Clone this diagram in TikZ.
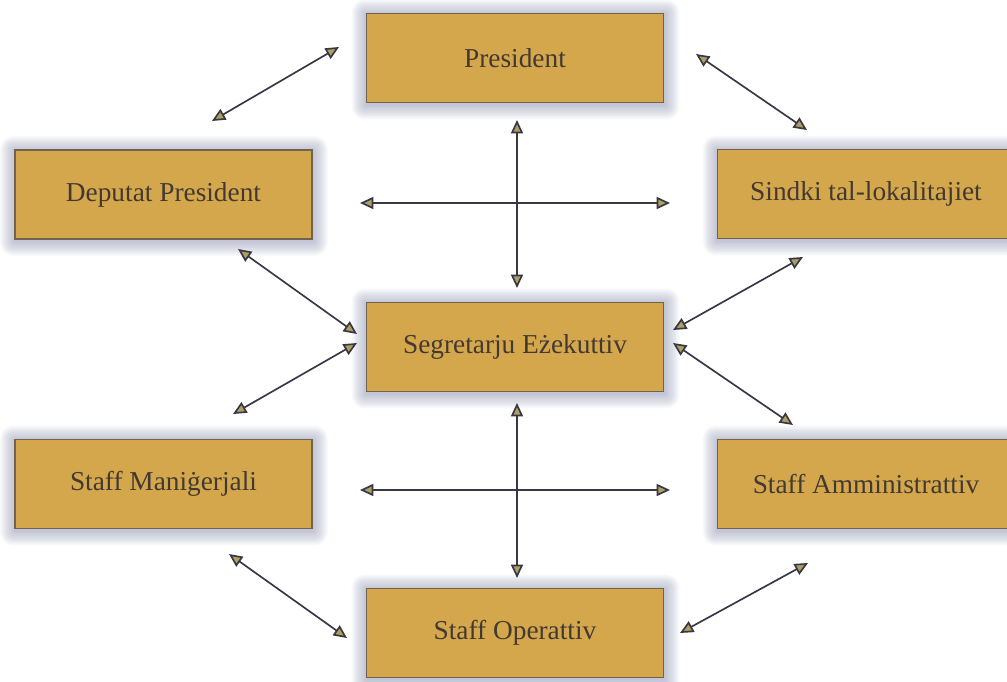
\documentclass[tikz,border=0pt]{standalone}
\usepackage{fontspec}
\setmainfont{Liberation Serif}
\usetikzlibrary{arrows.meta,backgrounds}
\definecolor{boxfill}{RGB}{213,167,76}
\definecolor{boxline}{RGB}{110,100,80}
\definecolor{txtc}{RGB}{66,58,50}
\definecolor{glowc}{RGB}{135,140,175}
\definecolor{linec}{RGB}{55,55,70}
\definecolor{tipc}{RGB}{176,158,96}
\tikzset{
  orgbox/.style={draw=boxline, line width=0.8pt, fill=boxfill, text=txtc,
    minimum width=222.75pt, minimum height=66.75pt, inner sep=0pt,
    font=\fontsize{20.5}{24}\selectfont},
  biarr/.style={draw=linec, line width=1.25pt,
    {Triangle[length=10pt,width=9pt,fill=tipc]}-{Triangle[length=10pt,width=9pt,fill=tipc]}},
}
\begin{document}
\begin{tikzpicture}[x=0.75pt,y=-0.75pt]
\useasboundingbox (0,0) rectangle (1007,682);
\node[orgbox] (pres) at (515,58) {President};
\node[orgbox] (dep) at (163.5,194.5) {Deputat President};
\node[orgbox] (sind) at (866,194) {Sindki tal-lokalitajiet};
\node[orgbox] (seg) at (515,347) {Segretarju Eżekuttiv};
\node[orgbox] (man) at (163.5,484) {Staff Maniġerjali};
\node[orgbox] (amm) at (866,484) {Staff Amministrattiv};
\node[orgbox] (op) at (515,633) {Staff Operattiv};
\begin{scope}[on background layer]
\fill[white] (0,0) rectangle (1007,682);
\foreach \n in {pres,dep,sind,seg,man,amm,op}{
  \foreach \k in {1,...,16}{
    \fill[glowc, opacity=0.035, rounded corners=\k*0.6pt]
      ([shift={(-\k*0.9,\k*0.9+2)}]\n.south west) rectangle ([shift={(\k*0.9+1,-\k*0.9+1)}]\n.north east);
  }
}
\end{scope}
\draw[biarr] ([shift={(-176,-11)}]pres.center) -- ([shift={(48.5,-73.5)}]dep.center);
\draw[biarr] ([shift={(181,-4)}]pres.center) -- ([shift={(-59,-64)}]sind.center);
\draw[biarr] ([shift={(2,62)}]pres.center) -- ([shift={(2,-59)}]seg.center);
\draw[biarr] ([shift={(196.5,8.5)}]dep.center) -- ([shift={(-196,9)}]sind.center);
\draw[biarr] ([shift={(74.5,54.5)}]dep.center) -- ([shift={(-158,-13)}]seg.center);
\draw[biarr] ([shift={(-158,-4)}]seg.center) -- ([shift={(69.5,-70)}]man.center);
\draw[biarr] ([shift={(-63,63)}]sind.center) -- ([shift={(158,-17)}]seg.center);
\draw[biarr] ([shift={(158,-4)}]seg.center) -- ([shift={(-73,-59)}]amm.center);
\draw[biarr] ([shift={(2,56)}]seg.center) -- ([shift={(2,-55)}]op.center);
\draw[biarr] ([shift={(196.5,6)}]man.center) -- ([shift={(-196,6)}]amm.center);
\draw[biarr] ([shift={(65.5,70)}]man.center) -- ([shift={(-168,5)}]op.center);
\draw[biarr] ([shift={(-58,79)}]amm.center) -- ([shift={(165,0)}]op.center);
\end{tikzpicture}
\end{document}
